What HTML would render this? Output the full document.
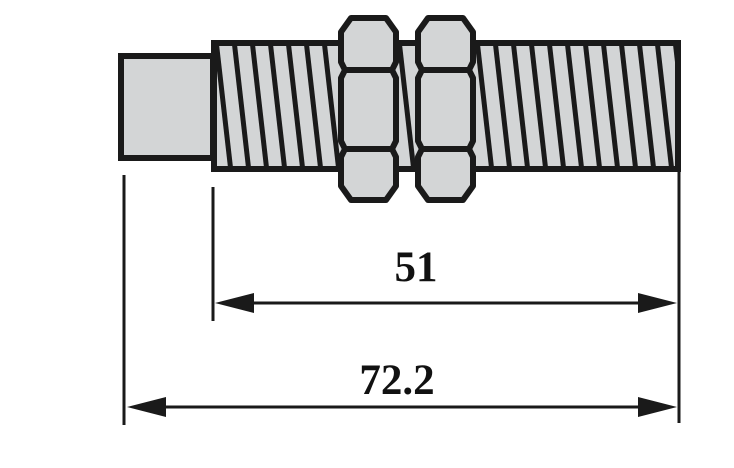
<!DOCTYPE html>
<html><head><meta charset="utf-8"><style>html,body{margin:0;padding:0;background:#fff}svg{display:block}</style></head>
<body>
<svg width="734" height="468" viewBox="0 0 734 468" xmlns="http://www.w3.org/2000/svg">
<defs>
<clipPath id="body"><rect x="214" y="43" width="464" height="126"/></clipPath>
</defs>
<rect x="121" y="56" width="92" height="102" fill="#d3d5d6" stroke="#1a1a1a" stroke-width="6"/>
<rect x="214" y="43" width="464" height="126" fill="#d3d5d6"/>
<g clip-path="url(#body)" stroke="#1a1a1a" stroke-width="5">
<line x1="216" y1="40" x2="231" y2="172"/>
<line x1="234" y1="40" x2="249" y2="172"/>
<line x1="252" y1="40" x2="267" y2="172"/>
<line x1="270" y1="40" x2="285" y2="172"/>
<line x1="288" y1="40" x2="303" y2="172"/>
<line x1="306" y1="40" x2="321" y2="172"/>
<line x1="324" y1="40" x2="339" y2="172"/>
<line x1="399" y1="40" x2="414" y2="172"/>
<line x1="477" y1="40" x2="492" y2="172"/>
<line x1="495" y1="40" x2="510" y2="172"/>
<line x1="513" y1="40" x2="528" y2="172"/>
<line x1="531" y1="40" x2="546" y2="172"/>
<line x1="549" y1="40" x2="564" y2="172"/>
<line x1="567" y1="40" x2="582" y2="172"/>
<line x1="585" y1="40" x2="600" y2="172"/>
<line x1="603" y1="40" x2="618" y2="172"/>
<line x1="621" y1="40" x2="636" y2="172"/>
<line x1="639" y1="40" x2="654" y2="172"/>
<line x1="657" y1="40" x2="672" y2="172"/>
<line x1="675" y1="40" x2="690" y2="172"/>
</g>
<rect x="214" y="43" width="464" height="126" fill="none" stroke="#1a1a1a" stroke-width="6"/>
<g fill="#d3d5d6" stroke="#1a1a1a" stroke-width="6" stroke-linejoin="round">
<path d="M351,18 L386,18 L396,32 L396,62 L392,70 L396,78 L396,141 L392,149 L396,157 L396,186 L386,200 L351,200 L341,186 L341,157 L345,149 L341,141 L341,78 L345,70 L341,62 L341,32 Z"/>
<line x1="343" y1="70" x2="394" y2="70"/>
<line x1="343" y1="149" x2="394" y2="149"/>
<path d="M428,18 L463,18 L473,32 L473,62 L469,70 L473,78 L473,141 L469,149 L473,157 L473,186 L463,200 L428,200 L418,186 L418,157 L422,149 L418,141 L418,78 L422,70 L418,62 L418,32 Z"/>
<line x1="420" y1="70" x2="471" y2="70"/>
<line x1="420" y1="149" x2="471" y2="149"/>
</g>
<g stroke="#1a1a1a" stroke-width="3">
<line x1="124" y1="175" x2="124" y2="425"/>
<line x1="213" y1="187" x2="213" y2="321"/>
<line x1="679" y1="170" x2="679" y2="423"/>
<line x1="250" y1="303" x2="642" y2="303"/>
<line x1="165" y1="407" x2="642" y2="407"/>
</g>
<g fill="#1a1a1a">
<polygon points="215,303 254,293 254,313"/>
<polygon points="677,303 638,293 638,313"/>
<polygon points="127,407 166,397 166,417"/>
<polygon points="677,407 638,397 638,417"/>
</g>
<g font-family="Liberation Serif, serif" font-weight="bold" font-size="43" fill="#111" text-anchor="middle">
<text x="416" y="281">51</text>
<text x="397" y="394">72.2</text>
</g>
</svg>
</body></html>
